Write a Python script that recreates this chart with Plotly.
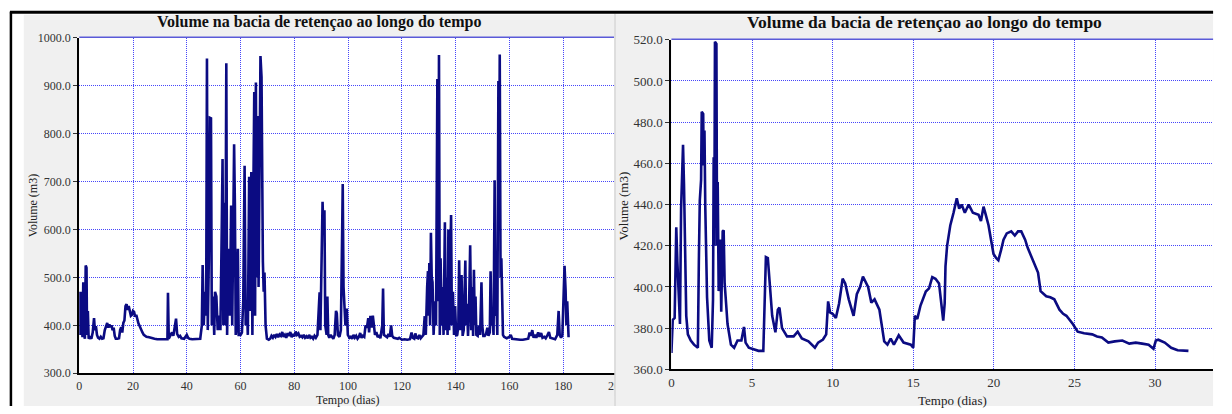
import plotly.graph_objects as go

# ---------------- data ----------------
left_title = "Volume na bacia de retençao ao longo do tempo"
right_title = "Volume da bacia de retençao ao longo do tempo"
x_title = "Tempo (dias)"
y_title = "Volume (m3)"

left_t = [0.0, 0.3, 0.6, 0.9, 1.2, 1.5, 1.8, 2.1, 2.4, 2.7, 2.9, 3.2, 3.5, 4.0, 4.5, 5.0, 5.5, 5.8, 6.2, 6.6,
          7.0, 7.5, 8.0, 8.5, 9.0, 9.5, 10.0, 10.4, 10.8, 11.2, 11.6, 12.0, 12.4, 12.8, 13.2, 13.6, 14.2, 14.8,
          15.2, 15.6, 16.0, 16.4, 16.8, 17.2, 17.6, 18.0, 18.4, 18.8, 19.2, 19.6, 20.0, 20.4, 20.8, 21.2, 21.6,
          22.0, 22.5, 23.0, 23.5, 24.0, 24.5, 25.0, 26, 27, 28, 29, 30, 31, 32, 32.8, 33.0, 33.3, 34.0, 34.5,
          35.0, 35.5, 36.0, 36.4, 37.0, 37.5, 38.0, 39.0, 40.0, 40.5, 41, 42, 43, 44, 45, 45.6, 45.9, 46.3,
          46.8, 47.2, 47.5, 47.8, 48.2, 48.6, 49.0, 49.3, 49.8, 50.2, 50.5, 51.0, 51.5, 52.0, 52.5, 53.0, 53.3,
          53.6, 54.0, 54.3, 54.7, 55.0, 55.5, 56.0, 56.5, 56.9, 57.3, 57.6, 57.9, 58.2, 58.6, 59.0, 59.3, 60.0,
          60.5, 61.0, 61.5, 61.9, 62.3, 62.7, 63.2, 63.6, 64.0, 64.4, 64.8, 65.1, 65.4, 65.7, 66.0, 66.4, 66.7,
          67.0, 67.4, 67.8, 68.0, 68.3, 68.6, 68.9, 69.3, 69.8, 70.5, 71, 71.5, 72, 72.5, 73, 73.5, 74, 74.5,
          75, 75.5, 76, 76.5, 77, 77.5, 78, 78.5, 79, 79.5, 80, 80.5, 81, 81.5, 82, 82.5, 83, 83.5, 84, 84.5,
          85, 85.5, 86, 86.5, 87, 87.5, 88, 88.6, 89.0, 89.4, 89.7, 90.1, 90.5, 90.8, 91.2, 91.5, 92.0, 92.3,
          92.6, 93, 93.5, 94, 94.5, 95.0, 95.5, 95.8, 96.2, 96.8, 97.3, 97.8, 98.0, 98.3, 98.7, 99.0, 99.5,
          99.9, 100.5, 101, 101.5, 102, 102.5, 103, 103.5, 104, 104.5, 105, 105.5, 106, 106.5, 107, 107.5,
          107.8, 108.3, 108.7, 109.2, 109.6, 110, 110.5, 111, 111.5, 112, 112.7, 113.0, 113.3, 114, 114.5, 115,
          115.5, 116.0, 116.4, 117, 118, 118.5, 119, 120, 121, 122, 123, 123.6, 124, 124.6, 125, 125.5, 126,
          126.5, 127, 127.5, 128.0, 128.5, 128.9, 129.4, 129.7, 130.0, 130.2, 130.5, 130.8, 131.1, 131.4,
          131.8, 132.3, 132.7, 133.0, 133.2, 133.5, 133.8, 134.1, 134.4, 134.8, 135.1, 135.5, 135.8, 136.0,
          136.3, 136.6, 137.0, 137.3, 137.6, 138.0, 138.3, 138.6, 139.0, 139.4, 139.8, 140.2, 140.6, 141.0,
          141.3, 141.7, 142.2, 142.6, 143.0, 143.6, 143.9, 144.2, 144.6, 145.0, 145.4, 145.8, 146.1, 146.5,
          146.8, 147.1, 147.4, 147.7, 148.2, 148.7, 149.1, 149.6, 149.9, 150.3, 150.8, 151.3, 151.8, 152.2,
          152.7, 153.0, 153.3, 153.7, 154.1, 154.5, 154.8, 155.2, 155.5, 155.9, 156.2, 156.4, 156.7, 157.0,
          157.3, 157.6, 158.0, 158.5, 159, 160, 160.5, 161, 162, 163, 164, 165, 166, 167, 167.5, 168, 168.5,
          169, 169.5, 170, 170.7, 171.2, 171.8, 172.3, 173, 173.5, 174.2, 174.7, 175.2, 176, 177, 177.8,
          178.3, 178.7, 179.2, 179.7, 180.2, 180.5, 180.9, 181.2, 181.5, 181.8, 182.0]
left_v = [470, 380, 470, 385, 375, 490, 380, 372, 525, 520, 380, 430, 372, 375, 372, 385, 415, 390, 398, 380,
          374, 372, 376, 372, 373, 390, 398, 405, 395, 402, 396, 400, 390, 395, 378, 372, 372, 373,
          390, 396, 385, 405, 410, 440, 444, 432, 440, 428, 420, 422, 430, 428, 418, 422, 410,
          404, 398, 390, 385, 380, 378, 376, 375, 373, 372, 371, 371, 370, 370, 371, 468, 372, 380, 385,
          378, 395, 414, 382, 376, 378, 373, 372, 380, 374, 372, 371, 371, 371, 372, 400, 526, 400,
          470, 420, 957, 390, 540, 833, 832, 400, 460, 380, 470, 460, 390, 420, 390, 600, 747,
          400, 656, 400, 947, 380, 560, 420, 650, 400, 600, 778, 647, 380, 400, 560, 380, 380,
          385, 450, 733, 400, 450, 380, 710, 430, 720, 380, 700, 887, 420, 907, 500, 837, 480,
          640, 962, 918, 700, 533, 470, 510, 400, 372, 370, 372, 378, 374, 380, 376, 382, 375, 381,
          378, 386, 376, 380, 374, 384, 378, 386, 375, 382, 377, 387, 380, 383, 376, 378, 375, 380, 374, 377,
          373, 380, 374, 376, 372, 378, 374, 380, 420, 469, 390, 520, 658, 600, 640, 400, 380, 460,
          380, 374, 380, 376, 372, 380, 430, 425, 380, 376, 390, 600, 695, 480, 445, 400, 435,
          380, 374, 376, 372, 380, 374, 378, 372, 376, 384, 374, 378, 376, 400, 395, 415,
          385, 420, 395, 420, 390, 380, 386, 375, 380, 373, 400, 477, 380, 376, 375, 382,
          376, 400, 378, 374, 373, 372, 374, 370, 371, 370, 371, 385, 374, 372, 383, 374, 373,
          380, 373, 376, 380, 419, 380, 480, 513, 420, 530, 400, 593, 500, 490,
          380, 450, 400, 760, 914, 450, 964, 380, 540, 400, 480, 380, 520, 615,
          390, 500, 380, 600, 390, 500, 630, 400, 470, 380, 440, 378, 380, 400,
          536, 390, 505, 378, 390, 535, 400, 445, 378, 440, 567, 390, 480, 378,
          516, 400, 460, 380, 378, 400, 380, 490, 400, 378, 378, 382, 395, 378,
          385, 513, 400, 415, 380, 703, 420, 440, 380, 910, 700, 965, 500, 540,
          420, 380, 376, 374, 373, 376, 380, 372, 371, 370, 370, 370, 371, 372, 385, 378, 390,
          374, 380, 374, 385, 376, 384, 374, 376, 373, 380, 386, 374, 372, 371, 380,
          430, 380, 374, 380, 470, 524, 472, 400, 450, 380, 375]

right_t = [0.0, 0.08, 0.2, 0.3, 0.37, 0.45, 0.53, 0.6, 0.72, 0.78, 0.86, 0.92, 1.02, 1.2, 1.4, 1.64, 1.7,
           1.76, 1.84, 1.88, 1.97, 2.0, 2.05, 2.1, 2.21, 2.35, 2.5, 2.58, 2.62, 2.66, 2.70, 2.79, 2.83, 2.87,
           2.93, 3.03, 3.09, 3.18, 3.24, 3.3, 3.4, 3.48, 3.69, 3.89, 4.1, 4.34, 4.5, 4.6, 4.8, 5.1, 5.4, 5.7,
           5.78, 5.86, 5.98, 6.09, 6.25, 6.45, 6.6, 6.7, 6.86, 7.17, 7.58, 7.83, 8.09, 8.5, 8.9, 9.1, 9.4, 9.6,
           9.72, 9.84, 10.0, 10.2, 10.4, 10.62, 10.78, 11.0, 11.3, 11.5, 11.7, 11.88, 12.2, 12.4, 12.6, 12.9,
           13.2, 13.4, 13.6, 13.8, 14.1, 14.4, 14.85, 15.0, 15.1, 15.25, 15.45, 15.78, 15.98, 16.18, 16.38,
           16.6, 16.74, 16.86, 16.95, 17.0, 17.1, 17.3, 17.5, 17.7, 17.85, 18.0, 18.2, 18.44, 18.7, 19.05,
           19.2, 19.36, 19.5, 19.67, 19.8, 19.98, 20.15, 20.28, 20.45, 20.6, 20.8, 21.08, 21.3, 21.5, 21.7,
           21.94, 22.1, 22.25, 22.43, 22.6, 22.74, 22.9, 23.25, 23.5, 23.75, 24.07, 24.3, 24.5, 24.7, 24.9,
           25.2, 25.6, 26.1, 26.4, 26.7, 27.1, 27.5, 27.97, 28.4, 28.8, 29.2, 29.6, 29.9, 30.05, 30.2, 30.6,
           31.0, 31.4, 32.07]
right_v = [368, 384, 385, 429, 412, 392, 382, 438, 469, 450, 420, 386, 377, 374, 372, 370.5, 412,
           442, 452, 485, 484, 459, 476, 439, 395, 374, 370.5, 394, 463, 420, 519, 518, 420, 451,
           398, 423, 388, 427, 427.5, 402, 391, 382, 372, 370.5, 374, 374, 380.6, 373, 370.5, 369.7, 369, 369,
           388, 414.5, 414, 402, 386, 378, 389, 390, 380, 376, 376, 378.3, 375, 373.6, 370.5, 373, 374.5, 377,
           393, 387.7, 387, 385, 392, 404, 401.7, 394, 386, 396.5, 400, 405, 400, 392.4, 394, 389,
           373.6, 372, 375, 372, 376.5, 373, 372, 370.5, 386, 384.5, 391, 397.8, 399.3, 404.8, 404,
           401.7, 392.4, 383.7, 392, 410, 420, 430, 436, 443, 438, 440, 436, 440, 436, 435,
           432, 439, 435, 430, 424, 416, 414, 413, 418, 423, 426, 427, 425, 427, 427,
           423, 419, 416, 413, 410, 407, 398, 395.5, 395, 394, 389, 387, 386, 384, 382,
           378.3, 377.5, 377, 376, 375.5, 373, 373.6, 374, 372.5, 373, 372.5, 372, 370, 374, 374.4, 373,
           370.5, 369.3, 369]

left_xticks = [0, 20, 40, 60, 80, 100, 120, 140, 160, 180, 200]
left_yticks = [300, 400, 500, 600, 700, 800, 900, 1000]
right_xticks = [0, 5, 10, 15, 20, 25, 30]
right_yticks = [360, 380, 400, 420, 440, 460, 480, 500, 520]

# ---------------- styling ----------------
W, H = 1232, 414
LINE = "#0b0b82"
GRID = "rgb(70,70,250)"
PANEL = "#f0f0f0"
SERIF = "Liberation Serif, Times New Roman, serif"


def px(x):
    return x / W


def py(y):
    return 1 - y / H


fig = go.Figure()
fig.add_trace(go.Scatter(x=left_t, y=left_v, mode="lines", xaxis="x", yaxis="y",
                         line=dict(color=LINE, width=2.6), showlegend=False))
fig.add_trace(go.Scatter(x=right_t, y=right_v, mode="lines", xaxis="x2", yaxis="y2",
                         line=dict(color=LINE, width=2.6), showlegend=False))

axis_common = dict(showgrid=True, gridcolor=GRID, griddash="1px,1px", gridwidth=1,
                   showline=True, linecolor="black", linewidth=2, zeroline=False, fixedrange=True)
yticks = dict(ticks="outside", ticklen=4, tickcolor="#333", tickwidth=1)
xticks = dict(ticks="")
lfont = dict(family=SERIF, size=12, color="#333")
rfont = dict(family=SERIF, size=13, color="#333")

fig.update_layout(
    width=W, height=H, margin=dict(l=0, r=0, t=0, b=0),
    paper_bgcolor="white", plot_bgcolor="white", showlegend=False,
    xaxis=dict(domain=[px(77), px(620)], range=[0, 200], tickvals=left_xticks, anchor="y",
               tickfont=lfont, **axis_common, **xticks),
    yaxis=dict(domain=[py(380), py(32)], range=[300, 1000], tickvals=left_yticks, tickformat=".1f",
               anchor="x", tickfont=lfont, **axis_common, **yticks),
    xaxis2=dict(domain=[px(675), px(1222)], range=[0, 33.6], tickvals=right_xticks, anchor="y2",
                tickfont=rfont, **axis_common, **xticks),
    yaxis2=dict(domain=[py(376), py(34)], range=[360, 520], tickvals=right_yticks, tickformat=".1f",
                anchor="x2", tickfont=rfont, **axis_common, **yticks),
)

shapes = [
    # panel backgrounds
    dict(type="rect", xref="paper", yref="paper", x0=px(21), x1=px(617), y0=0, y1=py(8),
         fillcolor=PANEL, line=dict(width=0), layer="below"),
    dict(type="rect", xref="paper", yref="paper", x0=px(619), x1=px(1222), y0=0, y1=py(8),
         fillcolor=PANEL, line=dict(width=0), layer="below"),
    # white plot areas
    dict(type="rect", xref="paper", yref="paper", x0=px(77), x1=px(620), y0=py(380), y1=py(32),
         fillcolor="white", line=dict(width=0), layer="below"),
    dict(type="rect", xref="paper", yref="paper", x0=px(675), x1=px(1222), y0=py(376), y1=py(34),
         fillcolor="white", line=dict(width=0), layer="below"),
    # clip the left panel's right edge (cut-off "200" label)
    dict(type="rect", xref="paper", yref="paper", x0=px(617.5), x1=px(622), y0=0, y1=py(8),
         fillcolor=PANEL, line=dict(width=0), layer="above"),
    dict(type="rect", xref="paper", yref="paper", x0=px(617.5), x1=px(640), y0=py(404), y1=py(383),
         fillcolor=PANEL, line=dict(width=0), layer="above"),
    dict(type="line", xref="paper", yref="paper", x0=px(618), x1=px(618), y0=0, y1=py(7),
         line=dict(color="#c8c8c8", width=1), layer="above"),
    # plot area top borders
    dict(type="line", xref="paper", yref="paper", x0=px(77), x1=px(617), y0=py(31.5), y1=py(31.5),
         line=dict(color="#5a5ad8", width=1.5), layer="above"),
    dict(type="line", xref="paper", yref="paper", x0=px(675), x1=px(1222), y0=py(33.5), y1=py(33.5),
         line=dict(color="#5a5ad8", width=1.5), layer="above"),
    # black frame lines
    dict(type="line", xref="paper", yref="paper", x0=px(7), x1=px(1222), y0=py(5.5), y1=py(5.5),
         line=dict(color="black", width=3), layer="above"),
    dict(type="line", xref="paper", yref="paper", x0=px(8), x1=px(8), y0=0, y1=py(5),
         line=dict(color="black", width=2.5), layer="above"),
]
fig.update_layout(shapes=shapes)

lann = dict(family=SERIF, size=12, color="#222")
rann = dict(family=SERIF, size=13, color="#222")
annotations = [
    dict(text="<b>" + left_title + "</b>", x=px(319), y=py(16), xref="paper", yref="paper",
         showarrow=False, font=dict(family=SERIF, size=16, color="#111"), xanchor="center", yanchor="middle"),
    dict(text="<b>" + right_title + "</b>", x=px(931), y=py(16), xref="paper", yref="paper",
         showarrow=False, font=dict(family=SERIF, size=17.5, color="#111"), xanchor="center", yanchor="middle"),
    dict(text=x_title, x=px(348), y=py(408), xref="paper", yref="paper",
         showarrow=False, font=lann, xanchor="center", yanchor="middle"),
    dict(text=x_title, x=px(959), y=py(408), xref="paper", yref="paper",
         showarrow=False, font=rann, xanchor="center", yanchor="middle"),
    dict(text=y_title, x=px(30), y=py(206), xref="paper", yref="paper", textangle=-90,
         showarrow=False, font=lann, xanchor="center", yanchor="middle"),
    dict(text=y_title, x=px(627), y=py(206), xref="paper", yref="paper", textangle=-90,
         showarrow=False, font=rann, xanchor="center", yanchor="middle"),
]
fig.update_layout(annotations=annotations)

post = ("document.documentElement.style.margin='0';document.documentElement.style.overflow='hidden';"
        "document.body.style.margin='0';document.body.style.overflow='hidden';")
fig.write_html("out.html", config={"displayModeBar": False}, post_script=post)
